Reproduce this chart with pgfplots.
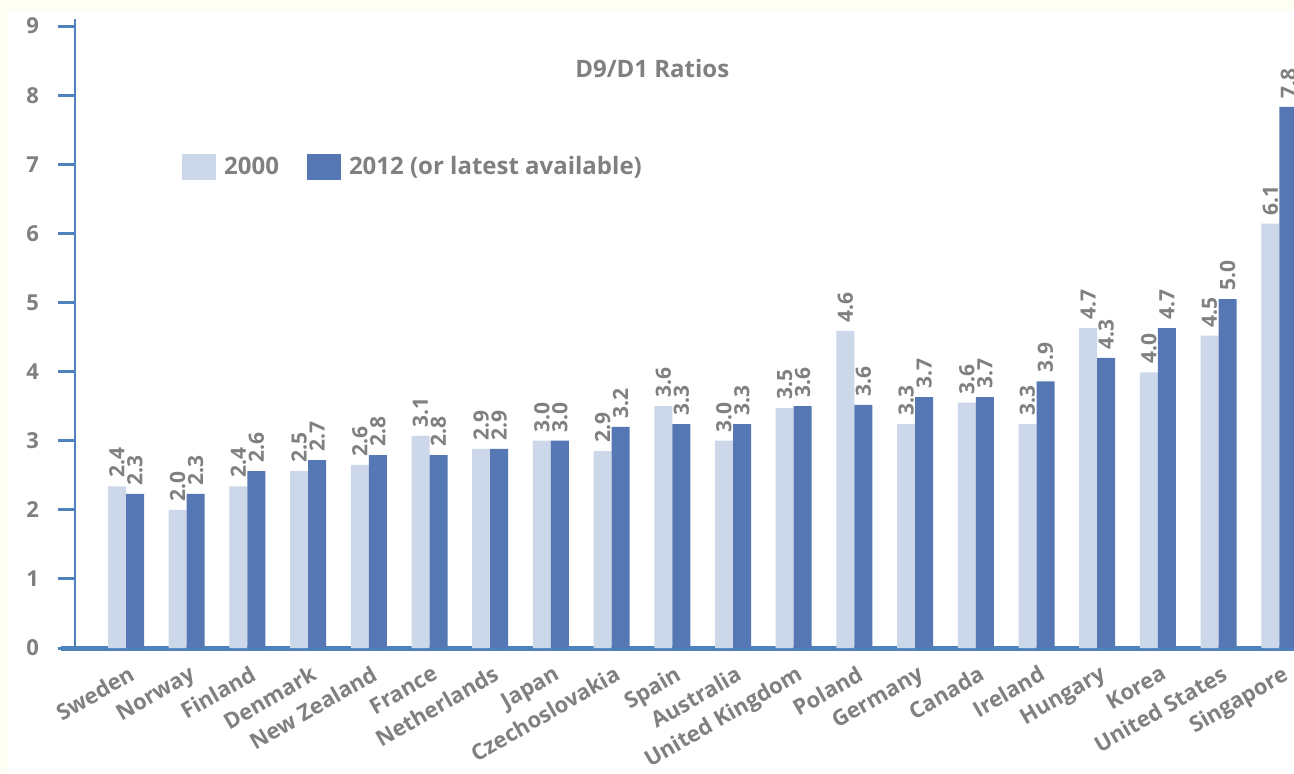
\documentclass[border=0pt]{standalone}
\usepackage{pgfplots}
\pgfplotsset{compat=1.18}
\usepackage{pgfplotstable}
\usepackage{fontspec}
\setmainfont{Open Sans}
\definecolor{cream}{RGB}{255,254,242}
\definecolor{txt}{RGB}{128,128,128}
\definecolor{light}{RGB}{204,215,233}
\definecolor{dark}{RGB}{85,120,181}
\definecolor{axisblue}{RGB}{79,129,189}
\pgfplotstableread{
x v lab
0 2.34 2.4
1 2.00 2.0
2 2.34 2.4
3 2.56 2.5
4 2.65 2.6
5 3.07 3.1
6 2.88 2.9
7 3.00 3.0
8 2.85 2.9
9 3.50 3.6
10 3.00 3.0
11 3.47 3.5
12 4.59 4.6
13 3.24 3.3
14 3.55 3.6
15 3.24 3.3
16 4.63 4.7
17 3.99 4.0
18 4.52 4.5
19 6.14 6.1
}\tA
\pgfplotstableread{
x v lab
0 2.23 2.3
1 2.23 2.3
2 2.56 2.6
3 2.72 2.7
4 2.79 2.8
5 2.79 2.8
6 2.88 2.9
7 3.00 3.0
8 3.20 3.2
9 3.24 3.3
10 3.24 3.3
11 3.50 3.6
12 3.52 3.6
13 3.63 3.7
14 3.63 3.7
15 3.86 3.9
16 4.20 4.3
17 4.63 4.7
18 5.05 5.0
19 7.83 7.8
}\tB
\begin{document}
\begin{tikzpicture}
\useasboundingbox (0,0) rectangle (647pt,386.5pt);
\clip (0,0) rectangle (647pt,386.5pt);
\fill[cream] (0,0) rectangle (647pt,386.5pt);
\fill[white] (3.5pt,0) rectangle (647pt,381pt);
\begin{axis}[
  anchor=origin, at={(63pt,62.5pt)},
  x=30.35pt, y=34.55pt,
  xmin=-0.84, xmax=19.4, ymin=0, ymax=9.1,
  clip=false,
  axis lines*=left,
  x axis line style={axisblue, line width=2.5pt, shorten <=-7pt},
  y axis line style={axisblue, line width=1pt},
  ybar=0pt, bar width=9pt,
  xtick={0,...,19},
  xticklabels={Sweden,Norway,Finland,Denmark,New Zealand,France,Netherlands,Japan,Czechoslovakia,Spain,Australia,United Kingdom,Poland,Germany,Canada,Ireland,Hungary,Korea,United States,Singapore},
  x tick style={draw=none},
  xticklabel style={rotate=30, anchor=north east, font=\bfseries\fontsize{11}{13}\selectfont, text=txt, inner sep=1pt, xshift=2pt, yshift=1pt},
  ytick={0,...,9},
  tick align=outside,
  major tick length=8.5pt,
  y tick style={axisblue, line width=1.5pt},
  yticklabel style={font=\bfseries\fontsize{11}{13}\selectfont, text=txt, xshift=-6pt, /pgf/number format/assume math mode=true},
  nodes near coords,
  point meta=explicit symbolic,
  nodes near coords style={rotate=90, anchor=west, font=\bfseries\fontsize{10.5}{12}\selectfont, text=txt, inner sep=1pt, xshift=3pt},
  legend style={at={(axis cs:0.92,6.96)}, anchor=west, draw=none, fill=none, legend columns=2,
    font=\bfseries\fontsize{12}{14}\selectfont, text=txt, inner sep=0pt,
    /tikz/every odd column/.append style={column sep=2pt},
    /tikz/every even column/.append style={column sep=12pt}},
  legend cell align=left,
]
\addplot[fill=light, draw=none, legend image code/.code={\fill[light] (0pt,-6.5pt) rectangle (17pt,6.5pt);}] table[x=x, y=v, meta=lab] {\tA};
\addlegendentry{2000}
\addplot[fill=dark, draw=none, legend image code/.code={\fill[dark] (0pt,-6.5pt) rectangle (17pt,6.5pt);}] table[x=x, y=v, meta=lab] {\tB};
\addlegendentry{2012 (or latest available)}
\node[font=\bfseries\fontsize{12}{14}\selectfont, text=txt] at (axis cs:8.67,8.39) {D9/D1 Ratios};
\end{axis}
\end{tikzpicture}
\end{document}
